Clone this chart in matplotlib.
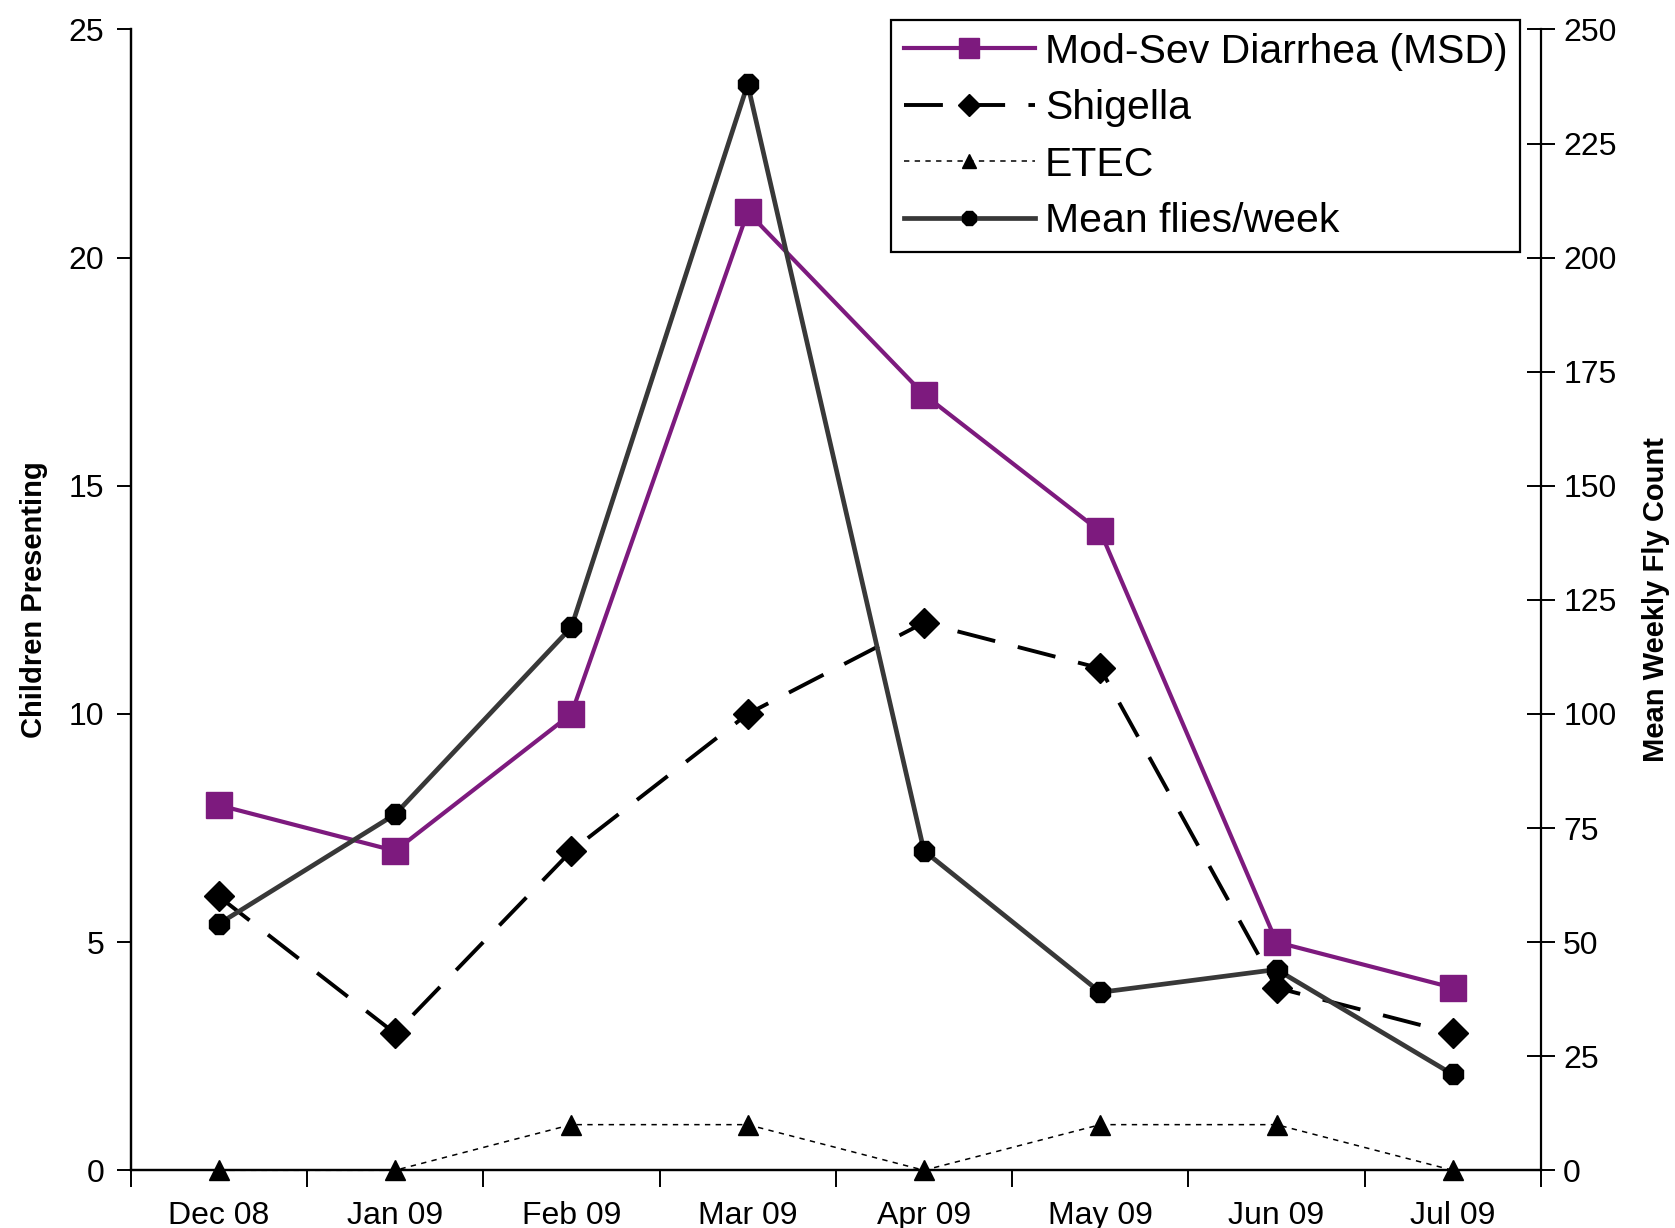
import numpy as np
import matplotlib as mpl
mpl.use('Agg')
import matplotlib.pyplot as plt
from matplotlib.ticker import FixedLocator, NullFormatter

mpl.rcParams.update({
    'font.family': ['Liberation Sans', 'DejaVu Sans'],
    'axes.linewidth': 1.6,
    'figure.facecolor': 'white',
    'axes.facecolor': 'white',
})

MONTHS = ['Dec 08', 'Jan 09', 'Feb 09', 'Mar 09', 'Apr 09', 'May 09', 'Jun 09', 'Jul 09']
MSD      = [8, 7, 10, 21, 17, 14, 5, 4]
SHIGELLA = [6, 3, 7, 10, 12, 11, 4, 3]
ETEC     = [0, 0, 1, 1, 0, 1, 1, 0]
FLIES    = [54, 78, 119, 238, 70, 39, 44, 21]

PURPLE = '#7d1a7e'
GREY   = '#383838'

fig = plt.figure(figsize=(16.75, 12.28), dpi=100)
ax = fig.add_axes([0.078, 0.047, 0.842, 0.929])
ax2 = ax.twinx()

x = np.arange(len(MONTHS))

l1, = ax.plot(x, MSD, color=PURPLE, lw=3.0, marker='s', markersize=19,
              markeredgecolor=PURPLE, label='Mod-Sev Diarrhea (MSD)', zorder=3)
l2, = ax.plot(x, SHIGELLA, color='black', lw=2.8, linestyle=(0, (10, 6)),
              marker='D', markersize=15, label='Shigella', zorder=3)
l3, = ax.plot(x, ETEC, color='black', lw=1.1, linestyle=(0, (3.5, 3.5)),
              marker='^', markersize=14, label='ETEC', zorder=3, clip_on=False)
l4, = ax2.plot(x, FLIES, color=GREY, lw=3.4, marker='8', markersize=15,
               markerfacecolor='black', markeredgecolor='black',
               label='Mean flies/week', zorder=3)

ax.set_xlim(-0.5, len(MONTHS) - 0.5)
ax.set_ylim(0, 25)
ax2.set_ylim(0, 250)

# category boundaries get tick marks, labels sit at category centres
ax.xaxis.set_major_locator(FixedLocator(np.arange(-0.5, len(MONTHS), 1.0)))
ax.xaxis.set_major_formatter(NullFormatter())
ax.xaxis.set_minor_locator(FixedLocator(x))
ax.set_xticklabels(MONTHS, minor=True)
ax.tick_params(axis='x', which='major', direction='out', length=12, width=1.4)
ax.tick_params(axis='x', which='minor', length=0, labelsize=23, pad=22)

ax.set_yticks(np.arange(0, 26, 5))
ax.tick_params(axis='y', direction='out', length=10, width=1.4, labelsize=23, pad=9)
ax2.set_yticks(np.arange(0, 251, 25))
ax2.tick_params(axis='y', direction='inout', length=20, width=1.4, labelsize=23, pad=6)

for a in (ax, ax2):
    a.spines['top'].set_visible(False)
ax.spines['right'].set_visible(False)

ax.set_ylabel('Children Presenting', fontsize=21, fontweight='bold', labelpad=15)
ax2.set_ylabel('Mean Weekly Fly Count', fontsize=21, fontweight='bold', labelpad=18)

leg = ax2.legend(handles=[l1, l2, l3, l4], loc='upper right',
                 bbox_to_anchor=(0.985, 1.008), fontsize=29.5, frameon=True,
                 fancybox=False, edgecolor='black', framealpha=1,
                 handlelength=3.2, handletextpad=0.25, labelspacing=0.45,
                 borderpad=0.3, borderaxespad=0)
leg.get_frame().set_linewidth(1.6)
for h in leg.legend_handles:
    h.set_markersize(h.get_markersize() * 0.75)

fig.savefig('out.png', dpi=100)
